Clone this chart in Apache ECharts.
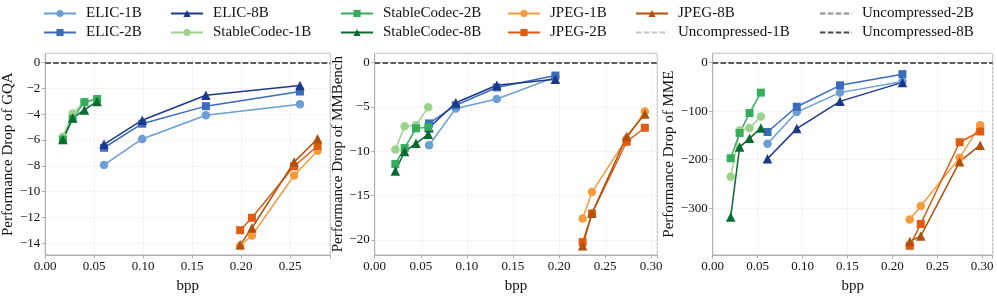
<!DOCTYPE html>
<html><head><meta charset="utf-8">
<script src="https://cdn.jsdelivr.net/npm/echarts@6/dist/echarts.min.js"></script>
<style>html,body{margin:0;padding:0;background:#fff}#c{width:997px;height:299px}</style>
</head><body><div id="c"></div>
<script>
// ---------- data ----------
const panelTitles = ['Performance Drop of GQA', 'Performance Drop of MMBench', 'Performance Drop of MME'];
const seriesNames = ['ELIC-1B','ELIC-2B','ELIC-8B','StableCodec-1B','StableCodec-2B','StableCodec-8B','JPEG-1B','JPEG-2B','JPEG-8B'];
const refNames = ['Uncompressed-1B','Uncompressed-2B','Uncompressed-8B'];
const uncompressedDrop = 0;

// GQA
const gqaElicBpp = [0.060, 0.099, 0.164, 0.260];
const gqaElic1B = [-7.93, -5.92, -4.09, -3.24];
const gqaElic2B = [-6.60, -4.74, -3.38, -2.25];
const gqaElic8B = [-6.33, -4.47, -2.54, -1.79];
const gqaScBpp = [0.018, 0.028, 0.040, 0.053];
const gqaSc1B = [-5.75, -3.95, -3.05, -2.85];
const gqaSc2B = [-5.97, -4.35, -3.07, -2.83];
const gqaSc8B = [-5.97, -4.30, -3.67, -3.02];
const gqaJpegBpp = [0.199, 0.211, 0.254, 0.278];
const gqaJpeg1B = [-14.19, -13.39, -8.75, -6.84];
const gqaJpeg2B = [-12.98, -12.02, -8.03, -6.46];
const gqaJpeg8B = [-14.10, -12.81, -7.71, -5.90];

// MMBench
const mmbElicBpp = [0.059, 0.088, 0.1325, 0.196];
const mmbElic1B = [-9.33, -5.18, -4.12, -1.65];
const mmbElic2B = [-6.87, -4.82, -2.82, -1.48];
const mmbElic8B = [-7.36, -4.54, -2.57, -1.90];
const mmbScBpp = [0.0224, 0.0325, 0.0448, 0.0581];
const mmbSc1B = [-9.82, -7.18, -7.08, -5.04];
const mmbSc2B = [-11.44, -9.65, -7.43, -7.29];
const mmbSc8B = [-12.22, -10.04, -9.12, -8.10];
const mmbJpegBpp = [0.2256, 0.2357, 0.2733, 0.2931];
const mmbJpeg1B = [-17.6, -14.61, -8.59, -5.53];
const mmbJpeg2B = [-20.25, -17.04, -8.94, -7.36];
const mmbJpeg8B = [-20.67, -17.0, -8.35, -5.81];

// MME
const mmeElicBpp = [0.061, 0.0936, 0.1417, 0.2112];
const mmeElic1B = [-167, -102, -62, -39];
const mmeElic2B = [-143, -91, -47, -24];
const mmeElic8B = [-198, -136, -80, -41];
const mmeScBpp = [0.020, 0.030, 0.041, 0.0536];
const mmeSc1B = [-235, -140, -135, -111];
const mmeSc2B = [-197, -145, -104, -62];
const mmeSc8B = [-318, -174, -156, -135];
const mmeJpegBpp = [0.2194, 0.2316, 0.2749, 0.2978];
const mmeJpeg1B = [-323, -295, -196, -129];
const mmeJpeg2B = [-377, -332, -164, -142];
const mmeJpeg8B = [-368, -357, -204, -170];

// axis tick values
const gqaTicks = [0, -2, -4, -6, -8, -10, -12, -14];
const mmbTicks = [0, -5, -10, -15, -20];
const mmeTicks = [0, -100, -200, -300];
const bppTicks = [0, 0.05, 0.10, 0.15, 0.20, 0.25, 0.30];

// ---------- styling / layout ----------
const FONT = 'Liberation Serif';
const colors = {
  'ELIC-1B':'#6a9ed5','ELIC-2B':'#3b6cbc','ELIC-8B':'#1c3889',
  'StableCodec-1B':'#9dd28c','StableCodec-2B':'#35ad5b','StableCodec-8B':'#086b30',
  'JPEG-1B':'#f79a3c','JPEG-2B':'#e05b10','JPEG-8B':'#b0500b',
  'Uncompressed-1B':'#c2c2c2','Uncompressed-2B':'#8e8e8e','Uncompressed-8B':'#474747'
};
const symbols = {'1B':['circle',8.5],'2B':['rect',8],'8B':['triangle',9.5]};

const panels = [
  {x:[gqaElicBpp,gqaElicBpp,gqaElicBpp,gqaScBpp,gqaScBpp,gqaScBpp,gqaJpegBpp,gqaJpegBpp,gqaJpegBpp],
   y:[gqaElic1B,gqaElic2B,gqaElic8B,gqaSc1B,gqaSc2B,gqaSc8B,gqaJpeg1B,gqaJpeg2B,gqaJpeg8B], ticks:gqaTicks,
   ymin:-14.9, ymax:0.71, xmax:0.291, left:43.3, right:330.3, split:8},
  {x:[mmbElicBpp,mmbElicBpp,mmbElicBpp,mmbScBpp,mmbScBpp,mmbScBpp,mmbJpegBpp,mmbJpegBpp,mmbJpegBpp],
   y:[mmbElic1B,mmbElic2B,mmbElic8B,mmbSc1B,mmbSc2B,mmbSc8B,mmbJpeg1B,mmbJpeg2B,mmbJpeg8B], ticks:mmbTicks,
   ymin:-21.7, ymax:1.03, xmax:0.3066, left:374.7, right:657.3, split:5},
  {x:[mmeElicBpp,mmeElicBpp,mmeElicBpp,mmeScBpp,mmeScBpp,mmeScBpp,mmeJpegBpp,mmeJpegBpp,mmeJpegBpp],
   y:[mmeElic1B,mmeElic2B,mmeElic8B,mmeSc1B,mmeSc2B,mmeSc8B,mmeJpeg1B,mmeJpeg2B,mmeJpeg8B], ticks:mmeTicks,
   ymin:-395.9, ymax:18.85, xmax:0.3117, left:712.7, right:992.7, split:4}
];
const TOP = 53.3, BOTTOM = 266.7;
const fmtNum = v => (v < 0 ? '\u2212' : '') + Math.abs(v);
const near = (v, arr) => arr.some(t => Math.abs(t - v) < 1e-6);

const grid = [], xAxis = [], yAxis = [], series = [];
const gridColor = '#e6e6e6', spineColor = '#b0b0b0';
panels.forEach((p, gi) => {
  grid.push({left:p.left, top:TOP, width:p.right-p.left, height:BOTTOM-TOP,
    show:true, borderColor:spineColor, borderWidth:1, backgroundColor:'transparent'});
  xAxis.push({type:'value', gridIndex:gi, min:0, max:p.xmax, interval:0.05,
    name:'bpp', nameLocation:'middle', nameGap:24,
    nameTextStyle:{fontFamily:FONT, fontSize:15, color:'#111'},
    axisLine:{show:true, onZero:false, lineStyle:{color:spineColor, width:1}},
    axisTick:{show:true, length:3.5, lineStyle:{color:spineColor}},
    axisLabel:{fontFamily:FONT, fontSize:13, color:'#111', margin:5,
      formatter:v => near(v, bppTicks) ? v.toFixed(2) : ''},
    splitLine:{show:true, lineStyle:{color:gridColor, type:[2,2], width:0.8}}});
  yAxis.push({type:'value', gridIndex:gi, min:p.ymin, max:p.ymax, splitNumber:p.split,
    name:panelTitles[gi], nameLocation:'middle', nameGap:27, nameRotate:90,
    nameTextStyle:{fontFamily:FONT, fontSize:15, color:'#111'},
    axisLine:{show:true, onZero:false, lineStyle:{color:spineColor, width:1}},
    axisTick:{show:true, length:3.5, lineStyle:{color:spineColor}},
    axisLabel:{fontFamily:FONT, fontSize:13, color:'#111', margin:5,
      showMinLabel:false, showMaxLabel:false,
      formatter:v => near(v, p.ticks) ? fmtNum(v) : ''},
    splitLine:{show:true, lineStyle:{color:gridColor, type:[2,2], width:0.8}}});
  seriesNames.forEach((name, si) => {
    const size = name.split('-')[1];
    const c = colors[name];
    series.push({type:'line', name, xAxisIndex:gi, yAxisIndex:gi,
      data:p.x[si].map((x, i) => [x, p.y[si][i]]),
      symbol:symbols[size][0], symbolSize:symbols[size][1], showSymbol:true,
      lineStyle:{color:c, width:1.5}, itemStyle:{color:c}, emphasis:{disabled:true},
      animation:false});
  });
  refNames.forEach(name => {
    const c = colors[name];
    series.push({type:'line', name, xAxisIndex:gi, yAxisIndex:gi, data:[],
      symbol:'none', symbolSize:0, showSymbol:false,
      lineStyle:{color:c, width:1.6, type:[5.5,2.4]}, itemStyle:{color:c},
      animation:false,
      markLine:{silent:true, symbol:['none','none'], label:{show:false}, animation:false,
        lineStyle:{color:c, width:1.6, type:[5.5,2.4]}, emphasis:{disabled:true},
        data:[{yAxis:uncompressedDrop}]}});
  });
});

// legend: 6 columns x 2 rows (matplotlib column-major order)
const legendOrder = ['ELIC-1B','ELIC-2B','ELIC-8B','StableCodec-1B','StableCodec-2B','StableCodec-8B',
  'JPEG-1B','JPEG-2B','JPEG-8B','Uncompressed-1B','Uncompressed-2B','Uncompressed-8B'];
const colX = [43, 170, 340, 507, 635, 819];
const rowY = [6, 25];
const legend = legendOrder.map((name, i) => {
  const isRef = refNames.includes(name);
  return {
    data:[isRef ? {name, itemStyle:{opacity:0, borderWidth:0}} : name],
    left:colX[Math.floor(i/2)], top:rowY[i%2], orient:'horizontal',
    itemWidth:32, itemHeight:9, itemGap:0, padding:0, selectedMode:false,
    textStyle:{fontFamily:FONT, fontSize:15, color:'#111', padding:[0,0,0,5]}
  };
});

const chart = echarts.init(document.getElementById('c'), null, {renderer:'canvas'});
chart.setOption({animation:false, backgroundColor:'#fff', grid, xAxis, yAxis, series, legend});
</script></body></html>
